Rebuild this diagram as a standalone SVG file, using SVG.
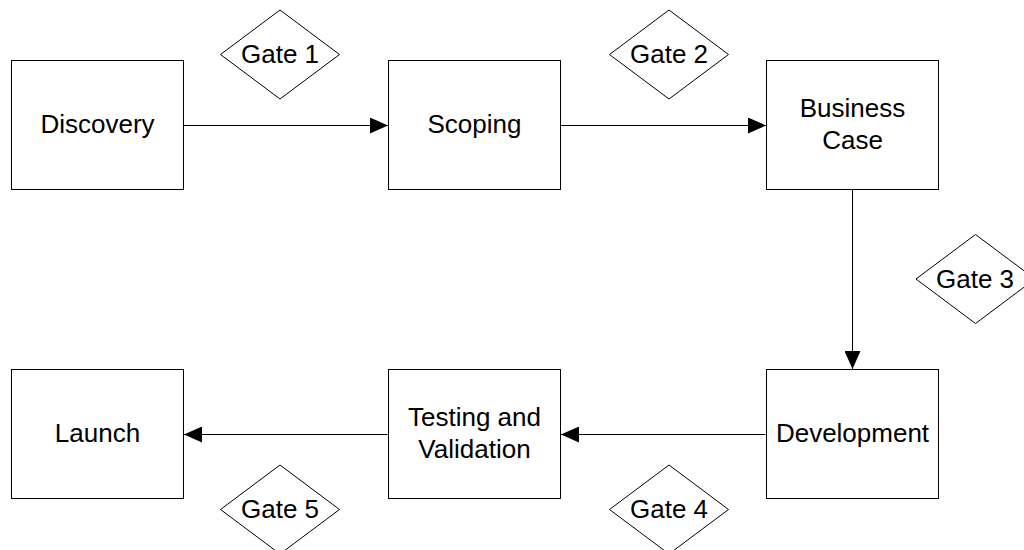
<svg xmlns="http://www.w3.org/2000/svg" width="1024" height="550" viewBox="0 0 1024 550">
  <style>
    .box { fill: #fff; stroke: #000; stroke-width: 1; }
    .gate { fill: #fff; stroke: #000; stroke-width: 1; }
    .label { font-family: "Liberation Sans", Arial, sans-serif; font-size: 26px; fill: #000; text-anchor: middle; }
    .link { fill: none; stroke: #000; stroke-width: 1; marker-end: url(#arrow); }
  </style>
  <defs>
    <marker id="arrow" markerWidth="18" markerHeight="16" refX="18" refY="8" orient="auto" markerUnits="userSpaceOnUse">
      <path d="M0,0 L18,8 L0,16 Z" fill="#000"/>
    </marker>
  </defs>
  <rect width="1024" height="550" fill="#fff"/>

  <g id="connectors">
    <line class="link" x1="183.5" y1="125.5" x2="388" y2="125.5"/>
    <line class="link" x1="560.5" y1="125.5" x2="766" y2="125.5"/>
    <line class="link" x1="852.5" y1="189.5" x2="852.5" y2="369"/>
    <line class="link" x1="765.5" y1="434.5" x2="561" y2="434.5"/>
    <line class="link" x1="387.5" y1="434.5" x2="184" y2="434.5"/>
  </g>

  <g id="discovery">
    <rect class="box" x="11.5" y="60.5" width="172" height="129"/>
    <text class="label" x="97.5" y="133">Discovery</text>
  </g>
  <g id="scoping">
    <rect class="box" x="388.5" y="60.5" width="172" height="129"/>
    <text class="label" x="474.5" y="133">Scoping</text>
  </g>
  <g id="business-case">
    <rect class="box" x="766.5" y="60.5" width="172" height="129"/>
    <text class="label" x="852.5" y="117">Business</text>
    <text class="label" x="852.5" y="149">Case</text>
  </g>
  <g id="development">
    <rect class="box" x="766.5" y="369.5" width="172" height="129"/>
    <text class="label" x="852.5" y="442">Development</text>
  </g>
  <g id="testing-validation">
    <rect class="box" x="388.5" y="369.5" width="172" height="129"/>
    <text class="label" x="474.5" y="426">Testing and</text>
    <text class="label" x="474.5" y="458">Validation</text>
  </g>
  <g id="launch">
    <rect class="box" x="11.5" y="369.5" width="172" height="129"/>
    <text class="label" x="97.5" y="442">Launch</text>
  </g>

  <g id="gate-1">
    <polygon class="gate" points="280,10 339.5,54.5 280,99 220.5,54.5"/>
    <text class="label" x="280" y="63">Gate 1</text>
  </g>
  <g id="gate-2">
    <polygon class="gate" points="669,10 728.5,54.5 669,99 609.5,54.5"/>
    <text class="label" x="669" y="63">Gate 2</text>
  </g>
  <g id="gate-3">
    <polygon class="gate" points="975.5,234.5 1035,279 975.5,323.5 916,279"/>
    <text class="label" x="975" y="288">Gate 3</text>
  </g>
  <g id="gate-4">
    <polygon class="gate" points="669,465 728.5,509.5 669,554 609.5,509.5"/>
    <text class="label" x="669" y="518">Gate 4</text>
  </g>
  <g id="gate-5">
    <polygon class="gate" points="280,465 339.5,509.5 280,554 220.5,509.5"/>
    <text class="label" x="280" y="518">Gate 5</text>
  </g>
</svg>
